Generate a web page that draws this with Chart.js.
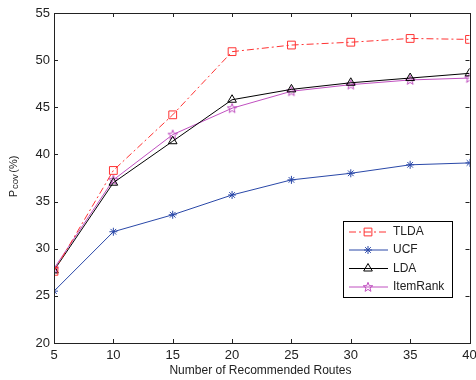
<!DOCTYPE html>
<html><head><meta charset="utf-8">
<script src="https://cdn.jsdelivr.net/npm/chart.js@4/dist/chart.umd.min.js"></script>
<style>html,body{margin:0;padding:0;background:#fff;}#wrap{width:476px;height:380px;}</style>
</head><body><div id="wrap"><canvas id="c" width="476" height="380"></canvas></div>
<script>
const routes = [5, 10, 15, 20, 25, 30, 35, 40];
const tlda = [27.6, 38.3, 44.2, 50.9, 51.6, 51.9, 52.3, 52.2];
const ucf = [25.5, 31.8, 33.6, 35.7, 37.3, 38.0, 38.9, 39.1];
const lda = [27.7, 37.0, 41.4, 45.8, 46.9, 47.6, 48.1, 48.6];
const itemRank = [27.9, 37.3, 42.1, 44.9, 46.7, 47.4, 47.9, 48.1];
const seriesNames = ['TLDA', 'UCF', 'LDA', 'ItemRank'];
const xTicks = [5, 10, 15, 20, 25, 30, 35, 40];
const yTicks = [20, 25, 30, 35, 40, 45, 50, 55];

const FONT = 'Liberation Sans, Arial, sans-serif';

function pentagram(color) {
  const c = document.createElement('canvas');
  c.width = 12; c.height = 12;
  const g = c.getContext('2d');
  g.strokeStyle = color; g.lineWidth = 1;
  g.beginPath();
  const cx = 6, cy = 6.3, R = 5, r = 2.1;
  for (let i = 0; i < 10; i++) {
    const a = -Math.PI / 2 + i * Math.PI / 5;
    const rr = i % 2 === 0 ? R : r;
    const x = cx + rr * Math.cos(a), y = cy + rr * Math.sin(a);
    if (i === 0) g.moveTo(x, y); else g.lineTo(x, y);
  }
  g.closePath(); g.stroke();
  return c;
}

const colors = ['#ff3333', '#2a48a8', '#000000', '#c050c0'];
const starImg = pentagram(colors[3]);

function mk(name, vals, color, style, radius, dash) {
  return {
    label: name,
    data: routes.map((x, i) => ({ x: x, y: vals[i] })),
    borderColor: color, backgroundColor: 'rgba(0,0,0,0)',
    pointBorderColor: color, pointBackgroundColor: 'rgba(0,0,0,0)',
    borderWidth: 1, pointBorderWidth: 1,
    pointStyle: style, pointRadius: radius,
    borderDash: dash, tension: 0, fill: false
  };
}

const datasets = [
  mk(seriesNames[0], tlda, colors[0], 'rect', 5.5, [7, 3, 2, 3]),
  mk(seriesNames[1], ucf, colors[1], 'star', 4, []),
  mk(seriesNames[2], lda, colors[2], 'triangle', 5, []),
  mk(seriesNames[3], itemRank, colors[3], starImg, 5, [])
];

const decor = {
  id: 'decor',
  afterDraw(chart) {
    const ctx = chart.ctx, a = chart.chartArea;
    const xs = chart.scales.x, ys = chart.scales.y;
    ctx.save();
    ctx.strokeStyle = '#222'; ctx.lineWidth = 1;
    ctx.strokeRect(Math.round(a.left) + 0.5, Math.round(a.top) + 0.5, Math.round(a.right - a.left), Math.round(a.bottom - a.top));
    ctx.beginPath();
    xTicks.forEach(v => {
      const px = Math.round(xs.getPixelForValue(v)) + 0.5;
      ctx.moveTo(px, a.bottom); ctx.lineTo(px, a.bottom - 4);
      ctx.moveTo(px, a.top); ctx.lineTo(px, a.top + 4);
    });
    yTicks.forEach(v => {
      const py = Math.round(ys.getPixelForValue(v)) + 0.5;
      ctx.moveTo(a.left, py); ctx.lineTo(a.left + 4, py);
      ctx.moveTo(a.right, py); ctx.lineTo(a.right - 4, py);
    });
    ctx.stroke();

    // x title
    ctx.fillStyle = '#222';
    ctx.font = '12px ' + FONT;
    ctx.textAlign = 'center'; ctx.textBaseline = 'middle';
    ctx.fillText('Number of Recommended Routes', 260.5, 371);

    // y title with subscript
    ctx.save();
    ctx.translate(17, 176.5);
    ctx.rotate(-Math.PI / 2);
    ctx.textAlign = 'left'; ctx.textBaseline = 'alphabetic';
    ctx.font = '11px ' + FONT; const wP = ctx.measureText('P').width + 1;
    ctx.font = '9.5px ' + FONT; const wS = ctx.measureText('cov').width + 1.5;
    ctx.font = '11px ' + FONT; const wR = ctx.measureText('(%)').width;
    let x0 = -(wP + wS + wR) / 2;
    ctx.font = '11px ' + FONT; ctx.fillText('P', x0, 0);
    ctx.font = '9.5px ' + FONT; ctx.fillText('cov', x0 + wP, 1);
    ctx.font = '11px ' + FONT; ctx.fillText('(%)', x0 + wP + wS, 0);
    ctx.restore();

    // legend
    const lx = 343, ly = 221, lw = 109, lh = 76;
    ctx.fillStyle = '#fff';
    ctx.fillRect(lx, ly, lw, lh);
    ctx.strokeStyle = '#000';
    ctx.strokeRect(lx + 0.5, ly + 0.5, lw, lh);
    const rowsY = [232, 250, 268.5, 287];
    chart.data.datasets.forEach((ds, i) => {
      const y = rowsY[i];
      ctx.save();
      ctx.strokeStyle = ds.borderColor; ctx.lineWidth = 1;
      ctx.setLineDash(ds.borderDash || []);
      ctx.beginPath(); ctx.moveTo(349, y); ctx.lineTo(388, y); ctx.stroke();
      ctx.setLineDash([]);
      ctx.fillStyle = 'rgba(0,0,0,0)';
      Chart.helpers.drawPoint(ctx, { pointStyle: ds.pointStyle, radius: ds.pointRadius, rotation: 0, borderWidth: 1 }, 368, y);
      ctx.restore();
      ctx.fillStyle = '#222';
      ctx.font = '12px ' + FONT; ctx.textAlign = 'left'; ctx.textBaseline = 'middle';
      ctx.fillText(ds.label, 393, y);
    });
    ctx.restore();
  }
};

new Chart(document.getElementById('c'), {
  type: 'line',
  data: { datasets: datasets },
  options: {
    responsive: false, animation: false, devicePixelRatio: 1,
    layout: { padding: { left: 0, right: 4, top: 13, bottom: 0 } },
    plugins: { legend: { display: false }, tooltip: { enabled: false } },
    scales: {
      x: {
        type: 'linear', min: 5, max: 40,
        afterBuildTicks: s => { s.ticks = xTicks.map(v => ({ value: v })); },
        afterFit: s => { s.height = 37; s.paddingLeft = 0; s.paddingRight = 0; },
        grid: { display: false, drawTicks: false },
        border: { display: false },
        ticks: { padding: 5, color: '#222', font: { family: FONT, size: 13 }, maxRotation: 0 }
      },
      y: {
        min: 20, max: 55,
        afterBuildTicks: s => { s.ticks = yTicks.map(v => ({ value: v })); },
        afterFit: s => { s.width = 54; s.paddingTop = 0; s.paddingBottom = 0; },
        grid: { display: false, drawTicks: false },
        border: { display: false },
        ticks: { padding: 4, color: '#222', font: { family: FONT, size: 13 } }
      }
    }
  },
  plugins: [decor]
});
</script></body></html>
